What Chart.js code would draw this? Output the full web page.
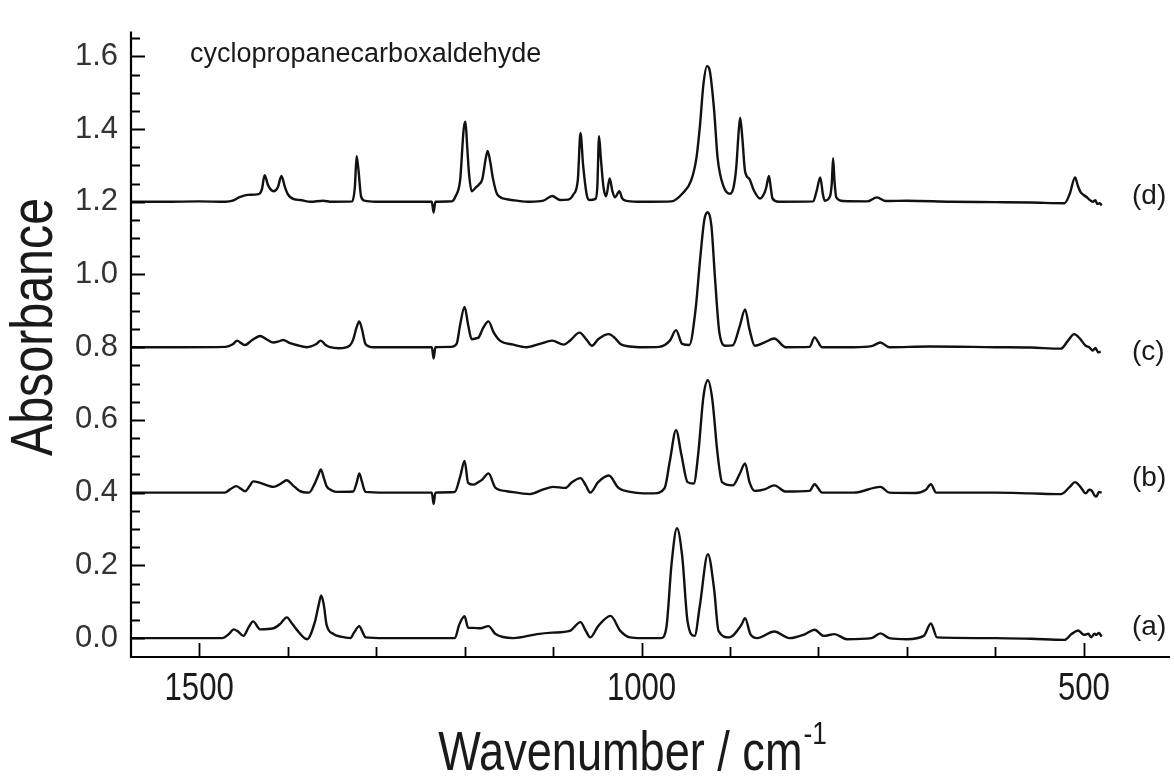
<!DOCTYPE html>
<html>
<head>
<meta charset="utf-8">
<script src="https://cdn.jsdelivr.net/npm/chart.js@4.4.0/dist/chart.umd.min.js"></script>
<style>
  body { margin: 0; background: #fff; }
  #wrap { width: 1175px; height: 783px; }
</style>
</head>
<body>
<div id="wrap"><canvas id="myChart"></canvas></div>
<script>
'use strict';

// wavenumbers (cm-1) and absorbances
const wnD = [1577,1540,1500,1470,1462,1455,1445,1433,1429,1426,1422,1416,1411,1407,1403,1400,1393,1386,1374,1360,1350,1327,1324,1322,1320,1317,1313,1300,1260,1237,1235,1233,1215,1210,1205,1201,1199,1197,1195,1192,1187,1184,1180,1176,1174,1171,1168,1163,1152,1141,1126,1111,1101,1092,1083,1077,1072,1069,1066,1062,1059,1052,1050,1048,1046,1043,1040,1036,1033,1030,1025,1022,1018,1005,990,966,954,944,938,934,930,926,923,918,914,907,900,896,893,890,888.5,886,883,878,873,866,861,859,856,854,852,845,806,802,798,795,793,787,785,783.5,782,780,772,745,734,724,700,650,600,560,522,516,510,507,504,500,497,494,490,487,485,482,480];
const absD = [1.200,1.200,1.201,1.200,1.203,1.212,1.219,1.221,1.235,1.273,1.245,1.229,1.240,1.271,1.240,1.222,1.207,1.205,1.200,1.203,1.200,1.201,1.240,1.325,1.290,1.215,1.203,1.200,1.200,1.200,1.170,1.200,1.201,1.216,1.260,1.400,1.420,1.350,1.278,1.229,1.240,1.247,1.262,1.320,1.340,1.310,1.265,1.220,1.207,1.203,1.200,1.203,1.216,1.205,1.206,1.220,1.260,1.389,1.300,1.220,1.205,1.208,1.240,1.380,1.320,1.240,1.215,1.264,1.230,1.212,1.229,1.210,1.203,1.200,1.200,1.201,1.222,1.258,1.320,1.409,1.524,1.573,1.562,1.453,1.320,1.240,1.222,1.240,1.293,1.400,1.431,1.373,1.284,1.262,1.231,1.209,1.225,1.240,1.271,1.240,1.209,1.200,1.201,1.231,1.267,1.220,1.203,1.215,1.250,1.320,1.260,1.213,1.202,1.201,1.212,1.202,1.203,1.200,1.199,1.198,1.196,1.222,1.267,1.245,1.227,1.218,1.213,1.206,1.200,1.204,1.194,1.196,1.190];

const wnC = [1577,1520,1470,1462,1457,1453,1448,1440,1431,1424,1416,1410,1405,1398,1390,1378,1368,1362.5,1357,1352,1342,1330,1326,1322,1319,1316,1312,1303,1280,1237,1235,1233,1215,1209,1205,1200,1196,1192,1186,1184,1179,1173,1167,1160,1145,1130,1115,1101,1088,1081,1070,1062,1056,1049,1037,1030,1024,1013,998,980,968,961,954,946,939,934,929,925,921,917,912,905,897,889,883,878,872,861,850,837,810,804.5,796,760,740,730,720,675,600,560,526,518,511,507,504,498,494,490,487,484,481];
const absC = [0.800,0.800,0.801,0.808,0.818,0.812,0.806,0.820,0.831,0.822,0.813,0.816,0.820,0.812,0.806,0.800,0.808,0.818,0.806,0.800,0.797,0.804,0.820,0.855,0.871,0.850,0.809,0.800,0.800,0.800,0.769,0.800,0.801,0.809,0.862,0.911,0.862,0.822,0.825,0.827,0.853,0.871,0.840,0.818,0.807,0.800,0.809,0.818,0.807,0.818,0.840,0.820,0.804,0.822,0.836,0.825,0.809,0.802,0.800,0.801,0.818,0.847,0.809,0.806,0.902,1.036,1.151,1.171,1.133,0.991,0.840,0.804,0.805,0.858,0.904,0.849,0.804,0.813,0.824,0.800,0.801,0.827,0.800,0.800,0.803,0.813,0.800,0.802,0.800,0.799,0.796,0.818,0.836,0.830,0.822,0.804,0.800,0.791,0.798,0.786,0.788];

const wnB = [1577,1520,1471,1465,1458,1453,1448,1443,1439,1431,1416,1408,1401,1394,1386,1376,1369,1365,1362.5,1359,1356,1350,1344,1326,1322,1319,1316,1312,1290,1237,1235,1233,1215,1211,1205,1200,1196,1190,1185,1180,1173,1165,1152,1126,1111,1100,1086,1079,1069,1063,1058,1049,1037,1026,1013,998,986,974,968,961,955,948,941,936,930,925,920,914,909,897,889,883,878,872,861,850,837,810,804.5,796,760,730,720,690,679,673,667,600,560,526,516,510,504,498,494,491,488,486,483,480];
const absB = [0.400,0.400,0.400,0.409,0.418,0.411,0.404,0.418,0.431,0.427,0.416,0.424,0.434,0.420,0.404,0.400,0.427,0.450,0.464,0.440,0.418,0.406,0.402,0.403,0.427,0.453,0.430,0.402,0.400,0.400,0.369,0.400,0.401,0.402,0.444,0.487,0.427,0.422,0.428,0.436,0.453,0.413,0.404,0.396,0.409,0.416,0.413,0.428,0.440,0.420,0.400,0.429,0.447,0.413,0.402,0.398,0.398,0.412,0.487,0.572,0.505,0.429,0.425,0.505,0.665,0.709,0.656,0.505,0.429,0.420,0.452,0.480,0.429,0.405,0.409,0.420,0.403,0.405,0.423,0.400,0.400,0.416,0.400,0.399,0.407,0.423,0.400,0.400,0.398,0.396,0.416,0.429,0.416,0.398,0.408,0.405,0.392,0.389,0.402,0.400];

const wnA = [1577,1520,1474,1466,1461,1456,1450,1444,1439,1431,1416,1408,1401,1395,1390,1378,1369,1365,1362,1359,1356,1348,1340,1329,1325,1319,1315,1312,1290,1240,1211,1206,1200,1196,1190,1182,1173,1165,1145,1118,1101,1081,1069,1063,1058,1049,1035,1024,1013,1000,978,972,966,960,954,948,940,934,925,918,913,901,887,883,877,869,850,833,815,804.5,794,782,768,740,730,720,700,681,673,666,600,560,522,514,506.5,500,495,492,488,486,483,480];
const absA = [0.000,0.000,0.000,0.012,0.024,0.018,0.006,0.030,0.046,0.024,0.027,0.040,0.057,0.040,0.024,-0.003,0.046,0.090,0.117,0.090,0.037,0.011,0.004,0.000,0.015,0.033,0.015,0.002,0.000,0.000,0.000,0.037,0.060,0.028,0.028,0.027,0.033,0.011,0.000,0.011,0.015,0.020,0.044,0.020,0.002,0.033,0.061,0.020,0.002,0.000,0.000,0.028,0.206,0.302,0.224,0.046,0.006,0.091,0.231,0.135,0.020,0.002,0.037,0.055,0.011,0.000,0.018,0.000,0.011,0.023,0.006,0.011,-0.003,0.000,0.013,0.000,-0.003,0.006,0.040,0.002,0.000,-0.002,-0.005,0.011,0.021,0.009,0.012,0.002,0.012,0.009,0.014,0.004];

const traceNames = ['(a)', '(b)', '(c)', '(d)'];
const labelAbs = [0.030, 0.440, 0.785, 1.215];
const yTicks = [0.0, 0.2, 0.4, 0.6, 0.8, 1.0, 1.2, 1.4, 1.6];
const xTicks = [1500, 1000, 500];
const compound = 'cyclopropanecarboxaldehyde';


function toPoints(wn, ab) {
    return wn.map((w, i) => ({ x: w, y: ab[i] }));
}

function hasFont(name) {
    const c = document.createElement('canvas').getContext('2d');
    c.font = '40px monospace';
    const a = c.measureText('Wavenumber 1500').width;
    c.font = '40px "' + name + '", monospace';
    const b = c.measureText('Wavenumber 1500').width;
    return a !== b;
}

const narrowOk = hasFont('Liberation Sans Narrow');

// condensed text like the original figure (fallback: squeeze Liberation Sans)
function narrowText(ctx, text, x, y, size, align) {
    ctx.save();
    ctx.textAlign = align;
    if (narrowOk) {
        ctx.font = size + 'px "Liberation Sans Narrow"';
        ctx.fillText(text, x, y);
    } else {
        ctx.translate(x, y);
        ctx.scale(0.82, 1);
        ctx.font = size + 'px "Liberation Sans"';
        ctx.fillText(text, 0, 0);
    }
    ctx.restore();
}

function narrowWidth(ctx, text, size) {
    ctx.save();
    ctx.font = size + 'px "' + (narrowOk ? 'Liberation Sans Narrow' : 'Liberation Sans') + '"';
    let w = ctx.measureText(text).width;
    ctx.restore();
    return narrowOk ? w : w * 0.82;
}

const decorations = {
    id: 'decorations',
    afterDraw(chart) {
        const ctx = chart.ctx;
        const ca = chart.chartArea;
        const xs = chart.scales.x;
        const ys = chart.scales.y;

        ctx.save();
        ctx.strokeStyle = '#000';
        ctx.lineWidth = 2.2;
        ctx.beginPath();
        ctx.moveTo(ca.left, ca.top);
        ctx.lineTo(ca.left, ca.bottom);
        ctx.lineTo(ca.right + 2, ca.bottom);
        ctx.stroke();

        // inward ticks
        ctx.lineWidth = 1.8;
        ctx.beginPath();
        for (let k = 0; k <= 33; k++) {
            const py = Math.round(ys.getPixelForValue(k * 0.05)) + 0.5;
            const len = (k % 4 === 0) ? 14 : 9;
            ctx.moveTo(ca.left, py);
            ctx.lineTo(ca.left + len, py);
        }
        for (let w = 500; w <= 1500; w += 100) {
            const px = Math.round(xs.getPixelForValue(w)) + 0.5;
            const len = (w % 500 === 0) ? 14 : 10;
            ctx.moveTo(px, ca.bottom);
            ctx.lineTo(px, ca.bottom - len);
        }
        ctx.stroke();

        ctx.fillStyle = '#1a1a1a';
        ctx.textBaseline = 'middle';
        xTicks.forEach(v => {
            narrowText(ctx, String(v), xs.getPixelForValue(v), 690, 38, 'center');
        });

        // x title with superscript
        ctx.textBaseline = 'alphabetic';
        const main = 'Wavenumber / cm';
        const wMain = narrowWidth(ctx, main, 55);
        const wSup = narrowWidth(ctx, '-1', 32);
        const x0 = 632 - (wMain + wSup) / 2;
        narrowText(ctx, main, x0, 770, 55, 'left');
        narrowText(ctx, '-1', x0 + wMain + 1, 744, 32, 'left');

        // y title
        ctx.save();
        ctx.translate(36, 327);
        ctx.rotate(-Math.PI / 2);
        ctx.textBaseline = 'middle';
        narrowText(ctx, 'Absorbance', 0, 0, 59, 'center');
        ctx.restore();

        // compound name and trace labels
        ctx.font = '27px "Liberation Sans"';
        ctx.textAlign = 'left';
        ctx.textBaseline = 'alphabetic';
        ctx.fillText(compound, 190, 62);

        ctx.font = '28px "Liberation Sans"';
        ctx.textBaseline = 'middle';
        traceNames.forEach((t, i) => {
            ctx.fillText(t, 1132, ys.getPixelForValue(labelAbs[i]));
        });
        ctx.restore();
    }
};

const series = [toPoints(wnA, absA), toPoints(wnB, absB), toPoints(wnC, absC), toPoints(wnD, absD)];

const config = {
    type: 'line',
    data: {
        datasets: series.map((pts, i) => ({
            label: traceNames[i],
            data: pts,
            borderColor: '#111',
            borderWidth: 2.4,
            pointRadius: 0,
            fill: false,
            cubicInterpolationMode: 'monotone'
        }))
    },
    options: {
        responsive: true,
        maintainAspectRatio: false,
        animation: false,
        layout: { padding: { top: 12, right: 7, left: 0, bottom: 0 } },
        plugins: { legend: { display: false }, tooltip: { enabled: false } },
        scales: {
            x: {
                type: 'linear',
                reverse: true,
                min: 405,
                max: 1577,
                grid: { display: false },
                border: { display: false },
                ticks: { display: false },
                afterFit: s => { s.height = 126; }
            },
            y: {
                type: 'linear',
                min: -0.052,
                max: 1.668,
                grid: { display: false, drawTicks: false },
                border: { display: false },
                afterBuildTicks: s => { s.ticks = yTicks.map(v => ({ value: v })); },
                ticks: {
                    padding: 13,
                    color: '#333',
                    font: { family: 'Liberation Sans', size: 31 },
                    callback: v => Number(v).toFixed(1)
                },
                afterFit: s => { s.width = 131; }
            }
        }
    },
    plugins: [decorations]
};

const myChart = new Chart(document.getElementById('myChart'), config);
</script>
</body>
</html>
